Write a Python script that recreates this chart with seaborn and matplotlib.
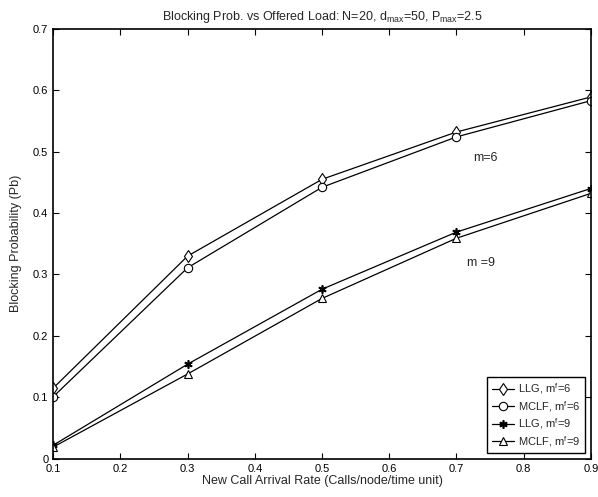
import numpy as np
import pandas as pd
import matplotlib
matplotlib.use("Agg")
import matplotlib.pyplot as plt
import seaborn as sns

arrival_rate = [0.1, 0.3, 0.5, 0.7, 0.9]
llg_m6 = [0.115, 0.330, 0.455, 0.532, 0.589]
mclf_m6 = [0.101, 0.311, 0.442, 0.524, 0.583]
llg_m9 = [0.022, 0.154, 0.276, 0.369, 0.440]
mclf_m9 = [0.019, 0.138, 0.261, 0.359, 0.432]
series_names = ["LLG, m$^{f}$=6", "MCLF, m$^{f}$=6", "LLG, m$^{f}$=9", "MCLF, m$^{f}$=9"]
x_ticks = [0.1, 0.2, 0.3, 0.4, 0.5, 0.6, 0.7, 0.8, 0.9]
y_ticks = [0, 0.1, 0.2, 0.3, 0.4, 0.5, 0.6, 0.7]
y_tick_labels = ["0", "0.1", "0.2", "0.3", "0.4", "0.5", "0.6", "0.7"]

rows = []
for name, vals in zip(series_names, [llg_m6, mclf_m6, llg_m9, mclf_m9]):
    for xv, yv in zip(arrival_rate, vals):
        rows.append({"x": xv, "y": yv, "series": name})
df = pd.DataFrame(rows)

sns.set_theme(style="white")
plt.rcParams["font.family"] = ["Liberation Sans", "DejaVu Sans"]
plt.rcParams["mathtext.fontset"] = "custom"
plt.rcParams["mathtext.rm"] = "Liberation Sans"
plt.rcParams["mathtext.it"] = "Liberation Sans"

fig = plt.figure(figsize=(5.98, 4.97), dpi=100)
ax = fig.add_axes([0.089, 0.077, 0.899, 0.865])

asterisk = (6, 2, 0)
marker_list = ["d", "o", asterisk, "^"]
for name, mk in zip(series_names, marker_list):
    sub = df[df["series"] == name]
    sns.lineplot(data=sub, x="x", y="y", color="black", marker=mk,
                 markersize=6, markerfacecolor="white",
                 markeredgecolor="black", markeredgewidth=0.8 if mk != asterisk else 1.2,
                 linewidth=0.9, ax=ax, label=name)

ax.set_xlim(0.1, 0.9)
ax.set_ylim(0, 0.7)
ax.set_xticks(x_ticks)
ax.set_xticklabels([f"{t:g}" for t in x_ticks])
ax.set_yticks(y_ticks)
ax.set_yticklabels(y_tick_labels)
ax.tick_params(direction="in", length=4, width=0.8, labelsize=8,
               top=True, right=True, bottom=True, left=True, colors="black")
for s in ax.spines.values():
    s.set_visible(True)
    s.set_color("black")
    s.set_linewidth(1.2)

ax.set_xlabel("New Call Arrival Rate (Calls/node/time unit)", fontsize=9, labelpad=1)
ax.set_ylabel("Blocking Probability (Pb)", fontsize=9, labelpad=8)
ax.set_title("Blocking Prob. vs Offered Load: N=20, d$_{max}$=50, P$_{max}$=2.5",
             fontsize=9, pad=6)

ax.text(0.725, 0.489, "m=6", fontsize=9, va="center")
ax.text(0.716, 0.319, "m =9", fontsize=9, va="center")

leg = ax.legend(loc="lower right", fontsize=8, frameon=True, fancybox=False,
                edgecolor="black", framealpha=1, borderpad=0.4, labelspacing=0.25,
                handlelength=2.0, handletextpad=0.4, borderaxespad=0.5)
leg.get_frame().set_linewidth(1.0)

fig.savefig("out.png", dpi=100)
